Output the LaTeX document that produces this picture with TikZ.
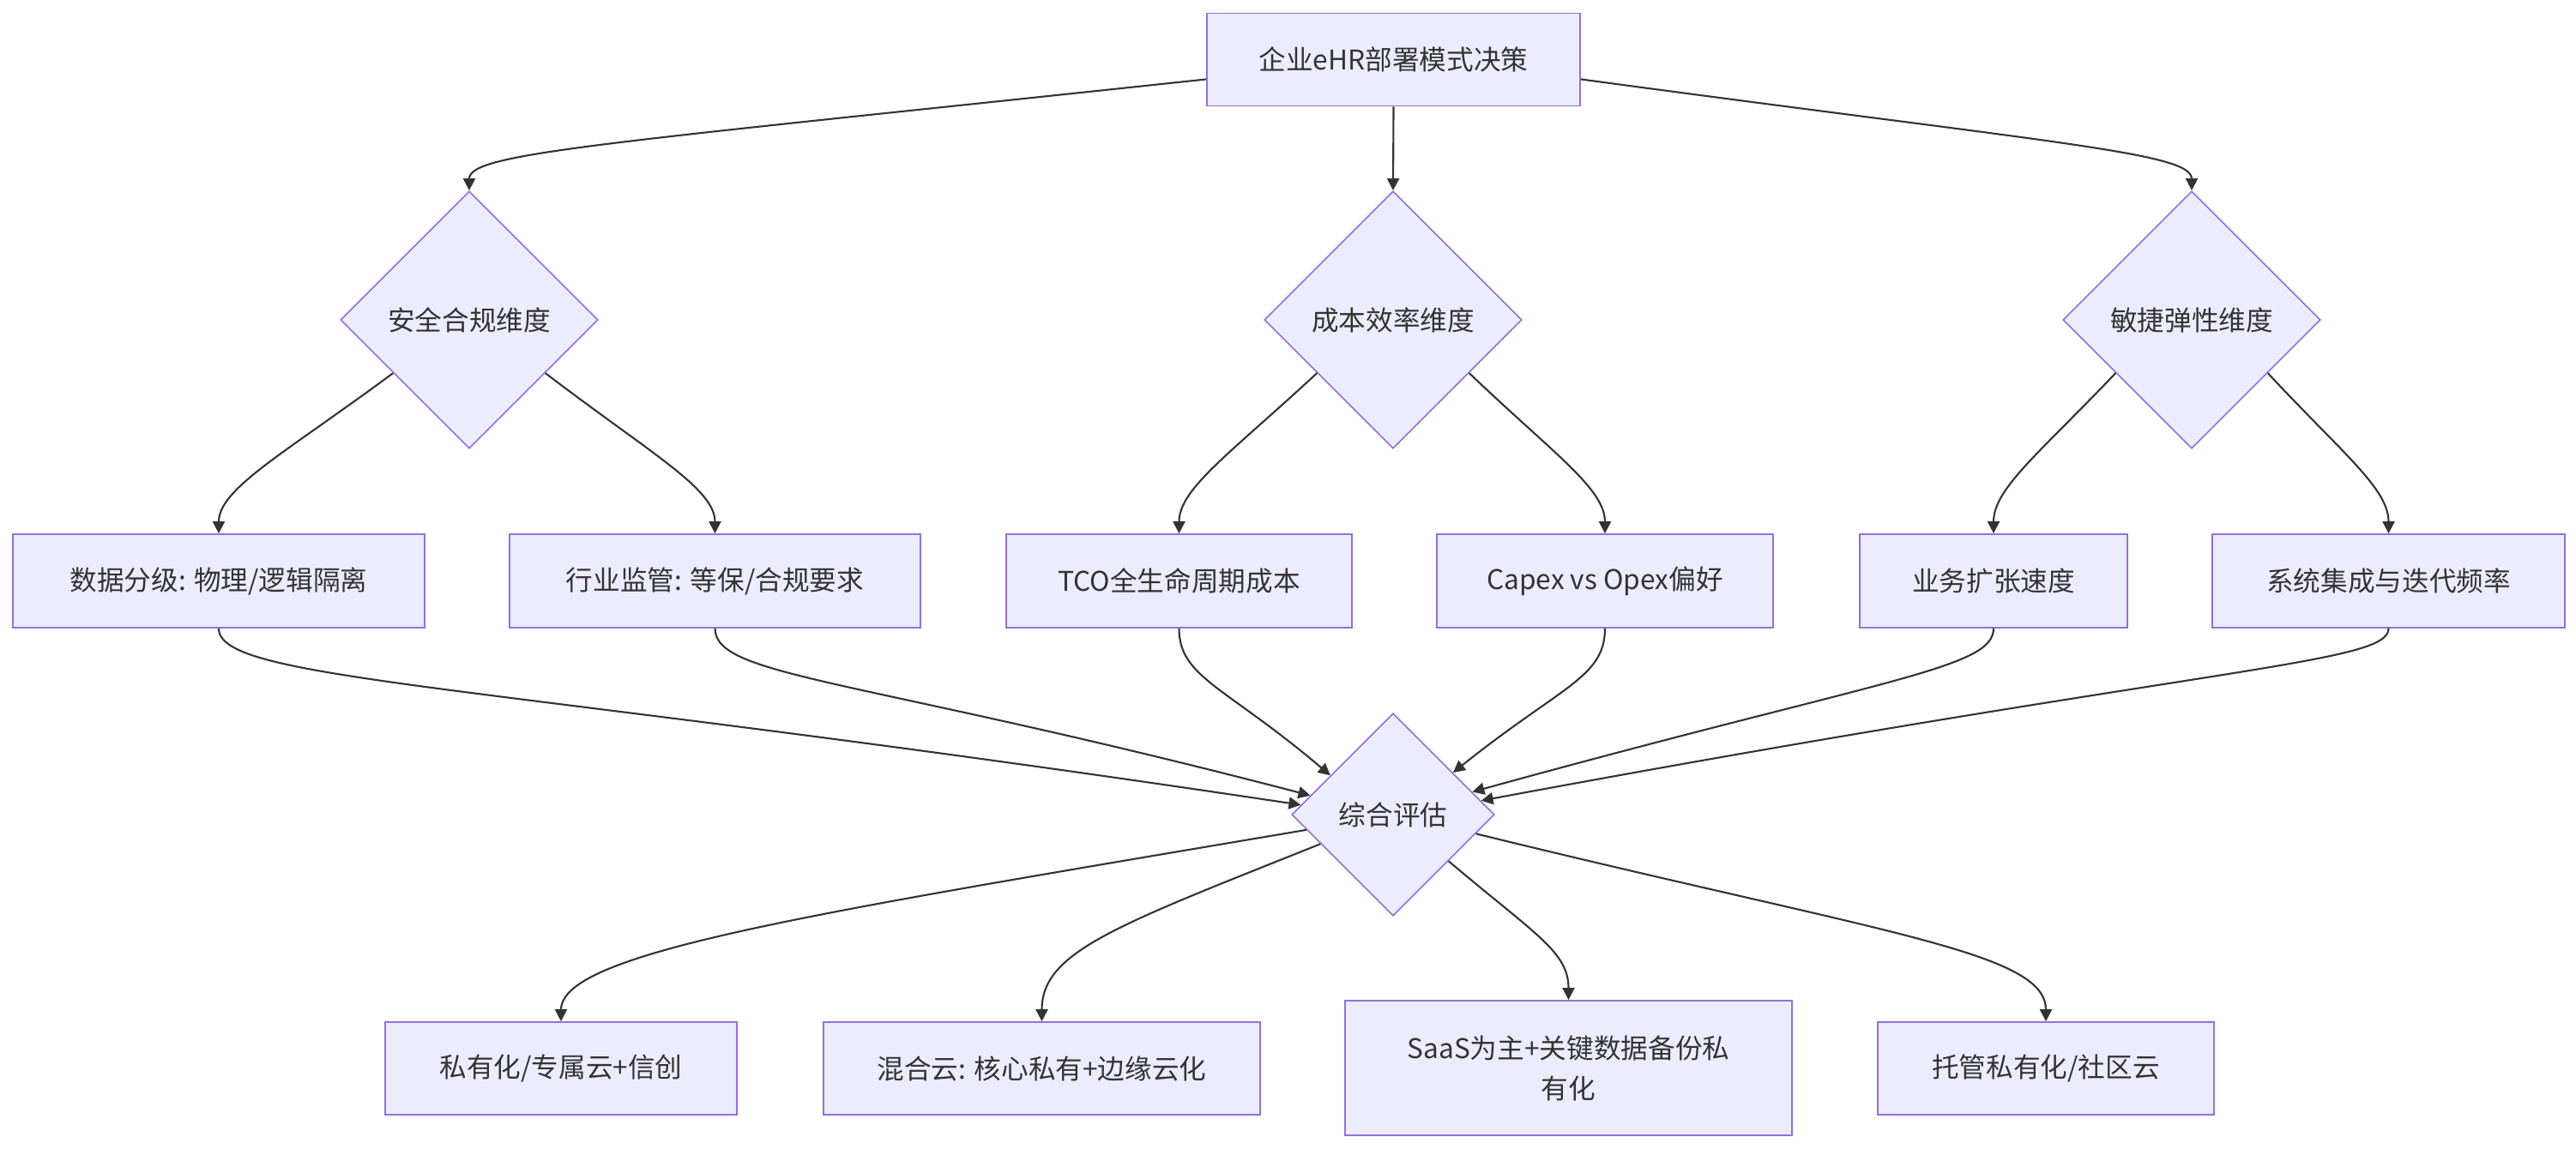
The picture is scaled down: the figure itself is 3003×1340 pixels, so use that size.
\documentclass[tikz,border=0pt]{standalone}
\usepackage{fontspec}
\newfontfamily\cjk{Noto Sans CJK SC}
\usetikzlibrary{shapes.geometric,arrows.meta}
\definecolor{knotenfill}{HTML}{ECECFF}
\definecolor{knotenrand}{HTML}{9370DB}
\definecolor{linie}{HTML}{333333}

\begin{document}
\begin{tikzpicture}[x=0.01cm,y=-0.01cm,
    kasten/.style={draw=knotenrand,fill=knotenfill,line width=0.45pt,inner sep=0pt,
        align=center,text=linie,font=\cjk\fontsize{9}{13.4}\selectfont},
    raute/.style={kasten,diamond,aspect=1},
    pfeil/.style={draw=linie,line width=0.6pt,-{Triangle[length=0.14cm,width=0.14cm]}}]
    \useasboundingbox (0,0) rectangle (3003,1340);
    % oberste Ebene:
    \node[kasten,minimum width=4.35cm,minimum height=1.08cm] (top) at (1624.5,69.5) {企业eHR部署模式决策};
    % Dimensionen:
    \node[raute,minimum size=3cm] (sicher) at (547,373) {安全合规维度};
    \node[raute,minimum size=3cm] (kosten) at (1624,373) {成本效率维度};
    \node[raute,minimum size=3cm] (agil) at (2555,373) {敏捷弹性维度};
    % Kriterien:
    \node[kasten,minimum width=4.8cm,minimum height=1.09cm] (daten) at (255,677.5) {数据分级: 物理/逻辑隔离};
    \node[kasten,minimum width=4.79cm,minimum height=1.09cm] (regul) at (833.5,677.5) {行业监管: 等保/合规要求};
    \node[kasten,minimum width=4.03cm,minimum height=1.09cm] (tco) at (1374.5,677.5) {TCO全生命周期成本};
    \node[kasten,minimum width=3.92cm,minimum height=1.09cm] (capex) at (1871,677.5) {Capex vs Opex偏好};
    \node[kasten,minimum width=3.12cm,minimum height=1.09cm] (wachstum) at (2324,677.5) {业务扩张速度};
    \node[kasten,minimum width=4.11cm,minimum height=1.09cm] (integr) at (2784.5,677.5) {系统集成与迭代频率};
    % Bewertung:
    \node[raute,minimum size=2.36cm] (bewert) at (1624,950) {综合评估};
    % Ergebnisse:
    \node[kasten,minimum width=4.1cm,minimum height=1.08cm] (privat) at (654,1246) {私有化/专属云+信创};
    \node[kasten,minimum width=5.09cm,minimum height=1.08cm] (hybrid) at (1214.5,1246) {混合云: 核心私有+边缘云化};
    \node[kasten,minimum width=5.21cm,minimum height=1.57cm] (saas) at (1828.5,1245.5) {SaaS为主+关键数据备份私\\有化};
    \node[kasten,minimum width=3.92cm,minimum height=1.08cm] (hosted) at (2385,1246) {托管私有化/社区云};
    % erste Pfeile:
    \draw[pfeil] (top.186) .. controls (700,168) and (547,178) .. (sicher.north);
    \draw[pfeil] (top.south) -- (kosten.north);
    \draw[pfeil] (top.354) .. controls (2402,168) and (2555,178) .. (agil.north);
    % zweite Pfeile:
    \draw[pfeil] (sicher.215) .. controls (330,530) and (255,570) .. (daten.north);
    \draw[pfeil] (sicher.325) .. controls (760,530) and (833.5,570) .. (regul.north);
    \draw[pfeil] (kosten.215) .. controls (1433,530) and (1374.5,570) .. (tco.north);
    \draw[pfeil] (kosten.325) .. controls (1812,530) and (1871,570) .. (capex.north);
    \draw[pfeil] (agil.215) .. controls (2376,530) and (2324,570) .. (wachstum.north);
    \draw[pfeil] (agil.325) .. controls (2732,530) and (2784.5,570) .. (integr.north);
    % zur Bewertung:
    \draw[pfeil] (daten.south) .. controls (255,795) and (560,795) .. (bewert.174);
    \draw[pfeil] (regul.south) .. controls (833.5,790) and (1000,790) .. (bewert.167);
    \draw[pfeil] (tco.south) .. controls (1374.5,790) and (1428,800) .. (bewert.148);
    \draw[pfeil] (capex.south) .. controls (1871,790) and (1820,800) .. (bewert.35);
    \draw[pfeil] (wachstum.south) .. controls (2324,780) and (2200,790) .. (bewert.16);
    \draw[pfeil] (integr.south) .. controls (2784.5,775) and (2580,775) .. (bewert.9);
    % Ergebnisse:
    \draw[pfeil] (bewert.190) .. controls (950,1065) and (654,1110) .. (privat.north);
    \draw[pfeil] (bewert.202) .. controls (1300,1080) and (1214.5,1110) .. (hybrid.north);
    \draw[pfeil] (bewert.320) .. controls (1790,1090) and (1828.5,1110) .. (saas.north);
    \draw[pfeil] (bewert.347) .. controls (2200,1090) and (2385,1110) .. (hosted.north);
\end{tikzpicture}
\end{document}
